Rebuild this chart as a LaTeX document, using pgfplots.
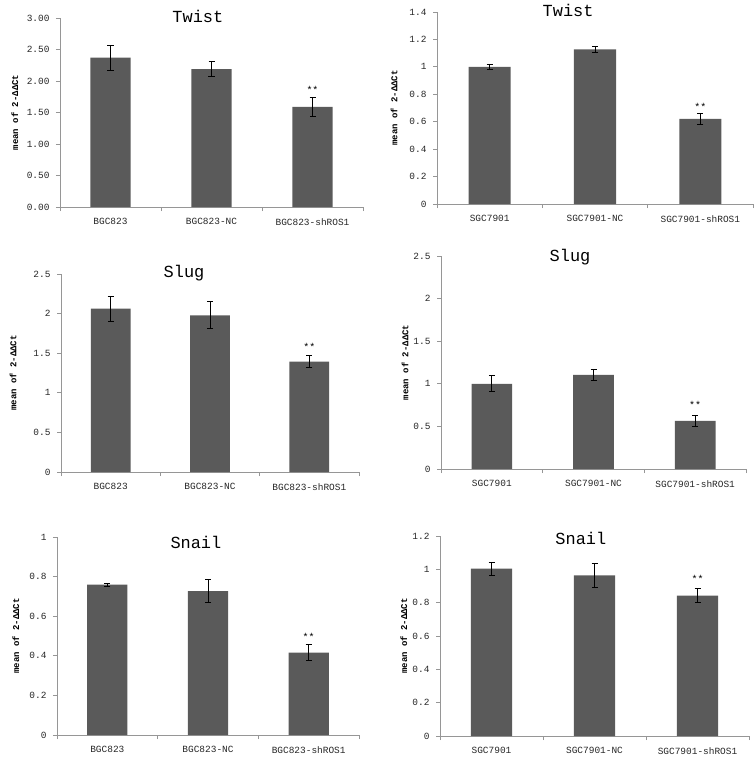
\documentclass[border=0pt]{standalone}
\usepackage{pgfplots}
\pgfplotsset{compat=1.18}
\usepackage{fontspec}
\setmainfont{Liberation Mono}
\setmonofont{Liberation Mono}
\definecolor{barc}{RGB}{90,90,90}
\definecolor{axc}{RGB}{150,150,150}
\pgfplotsset{
  panel/.style={
    scale only axis, anchor=south west,
    xmin=-0.5, xmax=2.5, ymin=0,
    axis x line=bottom, axis y line=left,
    axis line style={-, draw=axc, line width=0.8bp},
    xtick={0,1,2}, xtick style={draw=none},
    extra x ticks={-0.5,0.5,1.5,2.5}, extra x tick labels={},
    extra x tick style={xtick style={draw=axc, line width=0.8bp}},
    ytick style={draw=axc, line width=0.8bp},
    tick align=outside, major tick length=4bp,
    /pgf/number format/assume math mode=true,
    tick label style={font=\fontsize{9.5}{10}\selectfont, text=black!85},
    xticklabel style={yshift=-4bp},
    yticklabel style={xshift=-3bp},
    ylabel={mean of 2-ΔΔCt},
    ylabel style={font=\bfseries\fontsize{9}{10}\selectfont, anchor=center},
    title style={font=\fontsize{17}{18}\selectfont, anchor=center},
  },
  bars/.style={ybar, bar width=0.4, fill=barc, draw=none,
    error bars/.cd, y dir=both, y explicit,
    error bar style={line width=0.8bp, black},
    error mark options={rotate=90, black, mark size=3bp, line width=0.8bp}},
}
\begin{document}
\begin{tikzpicture}
\useasboundingbox (0bp,0bp) rectangle (756bp,-765bp);
% Panel 1
\begin{axis}[panel, at={(60bp,-207bp)}, width=303bp, height=189bp,
  ymax=3, ytick={0,0.5,1,1.5,2,2.5,3},
  yticklabel style={/pgf/number format/.cd, fixed, fixed zerofill, precision=2},
  xticklabels={BGC823,BGC823-NC,BGC823-shROS1},
  ylabel style={at={(axis description cs:-0.149,0.5)}},
  title={Twist}, title style={at={(axis description cs:0.455,0.974)}}]
\addplot[bars] coordinates {(0,2.37) +- (0,0.20) (1,2.19) +- (0,0.12) (2,1.59) +- (0,0.155)};
\node[anchor=south, font=\fontsize{10}{10}\selectfont] at (axis cs:2,1.745) {**};
\end{axis}
% Panel 2
\begin{axis}[panel, at={(437bp,-204bp)}, width=316bp, height=192bp,
  ymax=1.4, ytick={0,0.2,0.4,0.6,0.8,1,1.2,1.4},
  xticklabels={SGC7901,SGC7901-NC,SGC7901-shROS1},
  ylabel style={at={(axis description cs:-0.136,0.5)}},
  title={Twist}, title style={at={(axis description cs:0.415,0.979)}}]
\addplot[bars] coordinates {(0,1.0) +- (0,0.018) (1,1.128) +- (0,0.02) (2,0.621) +- (0,0.04)};
\node[anchor=south, font=\fontsize{10}{10}\selectfont] at (axis cs:2,0.655) {**};
\end{axis}
% Panel 3
\begin{axis}[panel, at={(61bp,-472bp)}, width=298bp, height=198bp,
  ymax=2.5, ytick={0,0.5,1,1.5,2,2.5},
  xticklabels={BGC823,BGC823-NC,BGC823-shROS1},
  ylabel style={at={(axis description cs:-0.161,0.5)}},
  title={Slug}, title style={at={(axis description cs:0.413,0.975)}}]
\addplot[bars] coordinates {(0,2.062) +- (0,0.16) (1,1.978) +- (0,0.17) (2,1.393) +- (0,0.075)};
\node[anchor=south, font=\fontsize{10}{10}\selectfont] at (axis cs:2,1.49) {**};
\end{axis}
% Panel 4
\begin{axis}[panel, at={(441bp,-469bp)}, width=305bp, height=213bp,
  ymax=2.5, ytick={0,0.5,1,1.5,2,2.5},
  xticklabels={SGC7901,SGC7901-NC,SGC7901-shROS1},
  ylabel style={at={(axis description cs:-0.118,0.5)}},
  title={Slug}, title style={at={(axis description cs:0.423,0.967)}}]
\addplot[bars] coordinates {(0,1.0) +- (0,0.095) (1,1.105) +- (0,0.063) (2,0.564) +- (0,0.06)};
\node[anchor=south, font=\fontsize{10}{10}\selectfont] at (axis cs:2,0.67) {**};
\end{axis}
% Panel 5
\begin{axis}[panel, at={(57bp,-735bp)}, width=302bp, height=198bp,
  ymax=1, ytick={0,0.2,0.4,0.6,0.8,1},
  xticklabels={BGC823,BGC823-NC,BGC823-shROS1},
  ylabel style={at={(axis description cs:-0.136,0.5)}},
  title={Snail}, title style={at={(axis description cs:0.46,0.94)}}]
\addplot[bars] coordinates {(0,0.759) +- (0,0.008) (1,0.727) +- (0,0.058) (2,0.4165) +- (0,0.039)};
\node[anchor=south, font=\fontsize{10}{10}\selectfont] at (axis cs:2,0.46) {**};
\end{axis}
% Panel 6
\begin{axis}[panel, at={(440bp,-736bp)}, width=309bp, height=200bp,
  ymax=1.2, ytick={0,0.2,0.4,0.6,0.8,1,1.2},
  xticklabels={SGC7901,SGC7901-NC,SGC7901-shROS1},
  ylabel style={at={(axis description cs:-0.117,0.5)}},
  title={Snail}, title style={at={(axis description cs:0.456,0.96)}}]
\addplot[bars] coordinates {(0,1.0037) +- (0,0.038) (1,0.9636) +- (0,0.072) (2,0.843) +- (0,0.04)};
\node[anchor=south, font=\fontsize{10}{10}\selectfont] at (axis cs:2,0.9) {**};
\end{axis}
\end{tikzpicture}
\end{document}
